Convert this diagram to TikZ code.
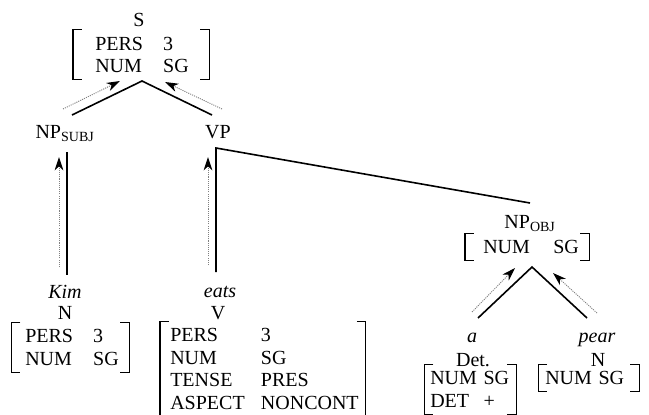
\documentclass[tikz,border=0pt]{standalone}
\usepackage{fontspec}
\setmainfont{Liberation Serif}
\usetikzlibrary{arrows.meta}

\tikzset{
    cat/.style={inner sep=0pt, anchor=base, font=\fontsize{15}{17}\selectfont},
    avm/.style={inner sep=0pt, anchor=base west, font=\fontsize{15}{17}\selectfont},
    branch/.style={line width=1.2pt},
    percolate/.style={gray, line width=0.7pt, dash pattern=on 0.8pt off 0.8pt,
        -{Stealth[black, length=10pt, width=6.5pt, inset=3pt]}},
    bracket/.style={line width=0.8pt},
}

% brackets round a feature structure: node, left gap, right gap
\newcommand{\avmbox}[3]{%
    \draw[bracket] ([xshift=-#2+6.5pt,yshift=3pt]#1.north west) -- ([xshift=-#2,yshift=3pt]#1.north west)
        -- ([xshift=-#2]#1.south west) -- ([xshift=-#2+6.5pt]#1.south west);
    \draw[bracket] ([xshift=#3-6.5pt,yshift=3pt]#1.north east) -- ([xshift=#3,yshift=3pt]#1.north east)
        -- ([xshift=#3]#1.south east) -- ([xshift=#3-6.5pt]#1.south east);}

\begin{document}
\begin{tikzpicture}[x=0.75pt, y=-0.75pt]
    \useasboundingbox (0,0) rectangle (649,414);

    % S
    \node[cat] (s) at (139,26.5) {S};
    \node[avm] (s-avm) at (95,50) {\begin{tabular}[t]{@{}p{51pt}@{}l@{}}PERS & 3\\ NUM & SG\end{tabular}};
    \avmbox{s-avm}{16.5pt}{15pt}

    % NP subject and VP
    \node[cat] (np-subj) at (65,138.5) {NP\textsubscript{SUBJ}};
    \node[cat] (vp) at (218,138.5) {VP};

    % Kim
    \node[cat] (kim) at (65,298) {\textit{Kim}};
    \node[cat] (kim-n) at (65,319.5) {N};
    \node[avm] (kim-avm) at (25,342.5) {\begin{tabular}[t]{@{}p{51pt}@{}l@{}}PERS & 3\\ NUM & SG\end{tabular}};
    \avmbox{kim-avm}{10pt}{7.5pt}

    % eats
    \node[cat] (eats) at (220,297.5) {\textit{eats}};
    \node[cat] (eats-v) at (218,319.5) {V};
    \node[avm] (eats-avm) at (170,341.5) {\begin{tabular}[t]{@{}p{68pt}@{}l@{}}PERS & 3\\ NUM & SG\\ TENSE & PRES\\ ASPECT & NONCONT\end{tabular}};
    \avmbox{eats-avm}{7.5pt}{5pt}

    % NP object
    \node[cat] (np-obj) at (530,228.5) {NP\textsubscript{OBJ}};
    \node[avm] (np-obj-avm) at (483,253.5) {\begin{tabular}[t]{@{}p{52.5pt}@{}l@{}}NUM & SG\end{tabular}};
    \avmbox{np-obj-avm}{13.5pt}{7.5pt}

    % a
    \node[cat] (a) at (472,342) {\textit{a}};
    \node[cat] (det) at (473,366.5) {Det.};
    \node[avm] (det-avm) at (430,384.5) {\begin{tabular}[t]{@{}p{40pt}@{}l@{}}NUM & SG\\ DET & +\end{tabular}};
    \avmbox{det-avm}{4pt}{5pt}

    % pear
    \node[cat] (pear) at (597,342) {\textit{pear}};
    \node[cat] (pear-n) at (598,366.5) {N};
    \node[avm] (pear-avm) at (545,384.5) {\begin{tabular}[t]{@{}p{40pt}@{}l@{}}NUM & SG\end{tabular}};
    \avmbox{pear-avm}{5pt}{11pt}

    % branch ends
    \coordinate (s-foot) at (142,81);
    \coordinate (np-subj-head) at (72,115);
    \coordinate (vp-head) at (212,115);
    \coordinate (np-subj-foot) at (67,152);
    \coordinate (kim-head) at (67,275);
    \coordinate (vp-foot) at (216,148);
    \coordinate (eats-head) at (216,272);
    \coordinate (np-obj-head) at (530,203);
    \coordinate (np-obj-foot) at (532,267);
    \coordinate (a-head) at (478,318);
    \coordinate (pear-head) at (587,318);

    % branches
    \draw[branch] (np-subj-head) -- (s-foot) -- (vp-head);
    \draw[branch] (np-subj-foot) -- (kim-head);
    \draw[branch] (eats-head) -- (vp-foot) -- (np-obj-head);
    \draw[branch] (a-head) -- (np-obj-foot) -- (pear-head);

    % percolation ends
    \coordinate (np-subj-out) at (63,109);
    \coordinate (s-in-left) at (120,81);
    \coordinate (vp-out) at (222,109);
    \coordinate (s-in-right) at (165,82);
    \coordinate (kim-out) at (59,267);
    \coordinate (np-subj-in) at (59,157);
    \coordinate (eats-out) at (208,265);
    \coordinate (vp-in) at (208,157);
    \coordinate (a-out) at (472,312);
    \coordinate (np-obj-in-left) at (515,268);
    \coordinate (pear-out) at (597,313);
    \coordinate (np-obj-in-right) at (553,273);

    % percolation
    \draw[percolate] (np-subj-out) -- (s-in-left);
    \draw[percolate] (vp-out) -- (s-in-right);
    \draw[percolate] (kim-out) -- (np-subj-in);
    \draw[percolate] (eats-out) -- (vp-in);
    \draw[percolate] (a-out) -- (np-obj-in-left);
    \draw[percolate] (pear-out) -- (np-obj-in-right);
\end{tikzpicture}
\end{document}
